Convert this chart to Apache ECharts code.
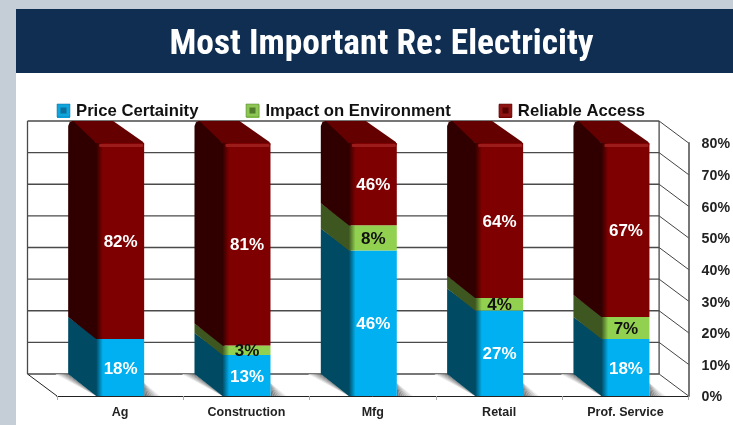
<!DOCTYPE html>
<html><head><meta charset="utf-8">
<script src="https://cdn.jsdelivr.net/npm/echarts@6/dist/echarts.min.js"></script>
<style>html,body{margin:0;padding:0;background:#c5ced6;overflow:hidden}#c{width:733px;height:425px}</style>
</head><body><div id="c"></div>
<script>
const categories = ['Ag','Construction','Mfg','Retail','Prof. Service'];
const priceCertainty = [18,13,46,27,18];
const impactEnv = [0,3,8,4,7];
const reliableAccess = [82,81,46,64,67];
const yTicks = [0,10,20,30,40,50,60,70,80];
const yMax = 80;
const seriesNames = ['Price Certainity','Impact on Environment','Reliable Access'];
const DX=-28, DY=-22, WDX=-29.5, BW=48;

function stacked(vals, prior){ return vals.map((v,i)=>{const b=prior?prior[i][2]:0; return [i,b,b+v,v];}); }
const s1=stacked(priceCertainty), s2=stacked(impactEnv,s1), s3=stacked(reliableAccess,s2);

function poly(pts,fill){return {type:'polygon',shape:{points:pts},style:{fill:fill},silent:true};}
function grad(x0,y0,x1,y1,stops){return new echarts.graphic.LinearGradient(x0,y0,x1,y1,stops.map(c=>({offset:c[0],color:c[1]})));}

function segment(front,side,topFace){
  return function(params,api){
    const i=api.value(0), base=api.value(1), raw=api.value(2), t=Math.min(raw,yMax);
    if(raw-base<=0) return null;
    const cx=api.coord([i,0])[0];
    const yb=api.coord([i,base])[1], yt=api.coord([i,t])[1];
    const x0=cx-BW/2, x1=cx+BW/2, clipped=raw>yMax;
    const ch=[];
    const sideTop=clipped?[[x0+DX,yt+DY+5],[x0+DX+1.5,yt+DY+1.5],[x0+DX+5,yt+DY]]:[[x0+DX,yt+DY]];
    if(clipped) ch.push(poly([[x0+2,yt+2],[x0+DX+1,yt+DY+1],[x0+DX+5,yt+DY],[x1+DX-3,yt+DY],[x1-1,yt-1],[x1,yt+2]],topFace));
    ch.push(poly([[x0+2,yb],[x0,yb],[x0+DX,yb+DY]].concat(sideTop,[[x0+2,yt+(clipped?2:0)]]),side));
    ch.push({type:'rect',shape:{x:x0,y:yt,width:BW,height:yb-yt},style:{fill:grad(0,0,1,0,[[0,side],[0.14,front],[1,front]])},silent:true});
    if(clipped) ch.push({type:'rect',shape:{x:x0+3,y:yt+1,width:BW-4,height:3,r:1},style:{fill:'#9c1c1c'},silent:true});
    return {type:'group',children:ch};
  };
}
function labelSeries(name,rows,color){
  return {type:'custom',name:name+' labels',coordinateSystem:'cartesian2d',silent:true,z:6,
    encode:{x:0,y:1},
    data:rows.map(r=>[r[0],(r[1]+Math.min(r[2],yMax))/2,r[3]]),
    renderItem(params,api){
      const v=api.value(2); if(!v) return null;
      const p=api.coord([api.value(0),api.value(1)]);
      return {type:'text',style:{text:v+'%',x:p[0]+0.5,y:p[1]+1.5,fill:color,font:'bold 17px "Liberation Sans",Arial,sans-serif',align:'center',verticalAlign:'middle'},silent:true};
    }};
}
function barSeries(name,rows,front,side,topFace){
  return {type:'custom',name:name,coordinateSystem:'cartesian2d',silent:true,z:3,clip:false,
    itemStyle:{color:front},encode:{x:0,y:[1,2]},data:rows,renderItem:segment(front,side,topFace)};
}
function mix(k,n){const c=Math.round(115+(255-115)*k/n);return `rgb(${c},${c},${c})`;}

const wallSeries={type:'custom',name:'wall',coordinateSystem:'cartesian2d',silent:true,z:1,clip:false,
  encode:{x:0,y:1},data:yTicks.map(v=>[0,v]),
  renderItem(params,api){
    const v=api.value(1), y=api.coord([0,v])[1];
    const rect=params.coordSys, xl=rect.x, xr=rect.x+rect.width;
    const line=(x1,y1,x2,y2,c,w)=>({type:'line',shape:{x1,y1,x2,y2},style:{stroke:c,lineWidth:w},silent:true});
    const ch=[line(xl+WDX,y+DY,xr+WDX,y+DY,'#4a4a4a',1.3), line(xr+WDX,y+DY,xr,y,'#444',1)];
    if(v===0){
      const top=api.coord([0,yMax])[1];
      ch.push(line(xl+WDX,y+DY,xl,y,'#222',1));
      ch.push(line(xl+WDX,y+DY,xl+WDX,top+DY,'#4a4a4a',1.3));
      ch.push(line(xr+WDX,y+DY,xr+WDX,top+DY,'#4a4a4a',1.3));
      for(let i=0;i<categories.length;i++){
        const cx=api.coord([i,0])[0], x0=cx-BW/2, x1=cx+BW/2, n=8;
        for(let k=n-1;k>=0;k--){
          ch.push(poly([[x0,y],[x0+DX-k*1.6,y+DY],[x0+DX-(k+1)*1.6,y+DY]],mix(k,n)));
          ch.push(poly([[x1,y-13],[x1+k*2,y],[x1+(k+1)*2,y]],mix(k,n)));
        }
      }
    }
    return {type:'group',children:ch};
  }};

function bevel(x,outer,inner){
  return [{type:'rect',z:7,silent:true,shape:{x:x,y:104,width:13,height:13},style:{fill:outer,stroke:inner,lineWidth:0.5}},
          {type:'rect',z:8,silent:true,shape:{x:x+3.5,y:107.5,width:6,height:6},style:{fill:inner}}];
}

const option={
  animation:false,
  backgroundColor:'#c5ced6',
  title:{text:'Most Important Re: Electricity',left:376.5,top:23,textAlign:'center',
    textStyle:{color:'#fff',fontFamily:'"Roboto Condensed","Liberation Sans Narrow","Liberation Sans",sans-serif',fontWeight:'bold',fontSize:35.4}},
  legend:{left:52,top:98,itemGap:48,itemWidth:13,itemHeight:13,icon:'rect',selectedMode:false,
    data:seriesNames,
    textStyle:{color:'#111',fontFamily:'"Liberation Sans",Arial,sans-serif',fontWeight:'bold',fontSize:16.7,padding:[0,0,0,1]}},
  grid:{left:57,right:44,top:143,bottom:29,containLabel:false},
  graphic:[
    {type:'rect',z:-10,silent:true,shape:{x:16,y:9,width:717,height:416},style:{fill:'#fff'}},
    {type:'rect',z:-9,silent:true,shape:{x:16,y:9,width:717,height:64},style:{fill:'#0f2e52'}}
  ].concat(bevel(57,'#0ea5dc','#0c6f9c'),bevel(246,'#8dc652','#4f7a2c'),bevel(499,'#8e1414','#560000')),
  xAxis:{type:'category',data:categories,
    axisLine:{lineStyle:{color:'#222',width:1}},
    axisTick:{show:true,length:4,lineStyle:{color:'#aaa'}},
    axisLabel:{color:'#222',fontFamily:'"Liberation Sans",Arial,sans-serif',fontWeight:'bold',fontSize:12.5,margin:10.5,interval:0},
    splitLine:{show:false}},
  yAxis:{type:'value',position:'right',min:0,max:yMax,interval:10,
    axisLine:{show:true,lineStyle:{color:'#777',width:2}},
    axisTick:{show:false},splitLine:{show:false},
    axisLabel:{color:'#222',fontFamily:'"Liberation Sans",Arial,sans-serif',fontWeight:'bold',fontSize:14.2,margin:13,verticalAlign:'top',lineHeight:3,formatter:'{value}%'}},
  series:[
    wallSeries,
    barSeries(seriesNames[0],s1,'#00b0f0','#004a63','#004a63'),
    barSeries(seriesNames[1],s2,'#92d050','#3e5720','#3e5720'),
    barSeries(seriesNames[2],s3,'#7f0000','#300000','#640000'),
    labelSeries('a',s1,'#fff'),
    labelSeries('b',s2,'#111'),
    labelSeries('c',s3,'#fff')
  ]
};
echarts.init(document.getElementById('c')).setOption(option);
</script></body></html>
